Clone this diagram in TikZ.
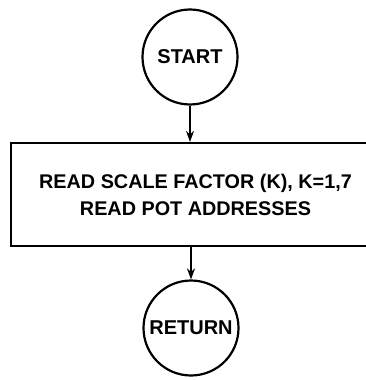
\documentclass[tikz,border=0pt]{standalone}
\usepackage{fontspec}
\setmainfont{Liberation Sans}
\usetikzlibrary{arrows.meta}
\begin{document}
\begin{tikzpicture}[x=1pt,y=-1pt,
  term/.style={circle,draw,line width=2.2pt,minimum size=95pt,inner sep=0pt,font=\bfseries\fontsize{20}{22}\selectfont},
  proc/.style={rectangle,draw,line width=2.2pt,minimum width=369pt,minimum height=103pt,inner sep=0pt,align=center,font=\bfseries\fontsize{19.8}{27}\selectfont},
  arr/.style={line width=2.2pt,-{Stealth[length=11pt,width=8pt]}}]
\useasboundingbox (0,0) rectangle (366,380);
\node[term] (start) at (190,57) {START};
\node[proc] (read) at (195.5,194.5) {READ SCALE FACTOR (K), K=1,7\\READ POT ADDRESSES};
\node[term] (ret) at (191,328) {RETURN};
\draw[arr] (start) -- (start|-read.north);
\draw[arr] (ret|-read.south) -- (ret);
\end{tikzpicture}
\end{document}
